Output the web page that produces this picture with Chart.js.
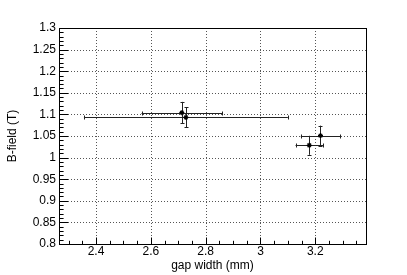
<!DOCTYPE html>
<html>
<head>
<meta charset="utf-8">
<script src="https://cdn.jsdelivr.net/npm/chart.js@4.4.1/dist/chart.umd.min.js"></script>
<style>
  html, body { margin: 0; padding: 0; background: #fff; }
  #wrap { width: 407px; height: 275px; }
</style>
</head>
<body>
<div id="wrap"><canvas id="chart" width="407" height="275"></canvas></div>
<script>
// measured points: gap width (mm) vs B-field (T), with errors
const gapWidth = [2.713, 2.728, 3.219, 3.178]
const gapWidthErr = [0.147, 0.372, 0.072, 0.05]
const bField = [1.104, 1.093, 1.051, 1.0285]
const bFieldErr = [0.025, 0.023, 0.023, 0.022]

const xTicks = [2.4, 2.6, 2.8, 3, 3.2]
const yTicks = [0.8, 0.85, 0.9, 0.95, 1, 1.05, 1.1, 1.15, 1.2, 1.25, 1.3]

Chart.defaults.font.family = '"Liberation Sans", Arial, sans-serif'
Chart.defaults.font.size = 12
Chart.defaults.color = '#000'

const px = v => Math.round(v) + 0.5

// grid, frame and inward ticks, ROOT style
const frame = {
  id: 'frame',
  beforeDatasetsDraw(chart) {
    const {ctx, chartArea: a, scales: {x, y}} = chart
    ctx.save()
    ctx.lineWidth = 1
    ctx.setLineDash([1, 2])
    ctx.strokeStyle = '#555'
    ctx.beginPath()
    xTicks.forEach(v => {
      const p = px(x.getPixelForValue(v))
      ctx.moveTo(p, a.top); ctx.lineTo(p, a.bottom)
    })
    yTicks.forEach(v => {
      const p = px(y.getPixelForValue(v))
      if (p < a.top + 1 || p > a.bottom - 1) return
      ctx.moveTo(a.left, p); ctx.lineTo(a.right, p)
    })
    ctx.stroke()
    ctx.setLineDash([])
    ctx.strokeStyle = '#000'
    ctx.beginPath()
    // minor x ticks every 0.05, major from xTicks
    for (let v = 2.3; v < x.max; v += 0.05) {
      const p = px(x.getPixelForValue(v))
      const major = xTicks.some(t => Math.abs(t - v) < 1e-6)
      ctx.moveTo(p, a.bottom); ctx.lineTo(p, a.bottom - (major ? 6.5 : 3.2))
    }
    for (let v = 0.8; v <= 1.3 + 1e-6; v += 0.01) {
      const p = px(y.getPixelForValue(v))
      const major = yTicks.some(t => Math.abs(t - v) < 1e-6)
      ctx.moveTo(a.left, p); ctx.lineTo(a.left + (major ? 9 : 4.6), p)
    }
    ctx.stroke()
    ctx.strokeRect(px(a.left), px(a.top), Math.round(a.right - a.left), Math.round(a.bottom - a.top))
    ctx.restore()
  }
}

// error bars drawn through the chart scales
const errorBars = {
  id: 'errorBars',
  beforeDatasetsDraw(chart) {
    const {ctx, scales: {x, y}} = chart
    ctx.save()
    ctx.strokeStyle = '#222'
    ctx.lineWidth = 1
    ctx.beginPath()
    gapWidth.forEach((gx, i) => {
      const cx = x.getPixelForValue(gx)
      const cy = px(y.getPixelForValue(bField[i]))
      const x0 = x.getPixelForValue(gx - gapWidthErr[i])
      const x1 = x.getPixelForValue(gx + gapWidthErr[i])
      const y0 = y.getPixelForValue(bField[i] + bFieldErr[i])
      const y1 = y.getPixelForValue(bField[i] - bFieldErr[i])
      const vx = px(cx)
      ctx.moveTo(x0, cy); ctx.lineTo(x1, cy)
      ctx.moveTo(px(x0), cy - 2); ctx.lineTo(px(x0), cy + 2)
      ctx.moveTo(px(x1), cy - 2); ctx.lineTo(px(x1), cy + 2)
      ctx.moveTo(vx, y0); ctx.lineTo(vx, y1)
      ctx.moveTo(vx - 2, px(y0)); ctx.lineTo(vx + 2, px(y0))
      ctx.moveTo(vx - 2, px(y1)); ctx.lineTo(vx + 2, px(y1))
    })
    ctx.stroke()
    ctx.restore()
  }
}

new Chart(document.getElementById('chart'), {
  type: 'scatter',
  data: {
    datasets: [{
      data: gapWidth.map((v, i) => ({x: v, y: bField[i]})),
      pointStyle: 'star',
      pointRadius: 2.5,
      borderColor: '#000',
      backgroundColor: '#000',
      borderWidth: 1.2
    }]
  },
  options: {
    responsive: false,
    animation: false,
    events: [],
    layout: {padding: {left: 0, right: 41, top: 28, bottom: 0}},
    plugins: {legend: {display: false}, tooltip: {enabled: false}},
    scales: {
      x: {
        type: 'linear',
        min: 2.265,
        max: 3.385,
        afterBuildTicks: s => { s.ticks = xTicks.map(v => ({value: v})) },
        afterFit: s => { s.height = 31 },
        grid: {display: false, drawTicks: false, tickLength: 0},
        border: {display: false},
        ticks: {padding: 0, maxRotation: 0, callback: v => String(v)},
        title: {display: true, text: 'gap width (mm)', padding: {top: 0, bottom: 2}}
      },
      y: {
        type: 'linear',
        min: 0.8,
        max: 1.3,
        afterBuildTicks: s => { s.ticks = yTicks.map(v => ({value: v})) },
        afterFit: s => { s.width = 59 },
        grid: {display: false, drawTicks: false, tickLength: 0},
        border: {display: false},
        ticks: {padding: 3, callback: v => String(+v.toFixed(2))},
        title: {display: true, text: 'B-field (T)', padding: {top: 5, bottom: 0}}
      }
    }
  },
  plugins: [frame, errorBars]
})
</script>
</body>
</html>
